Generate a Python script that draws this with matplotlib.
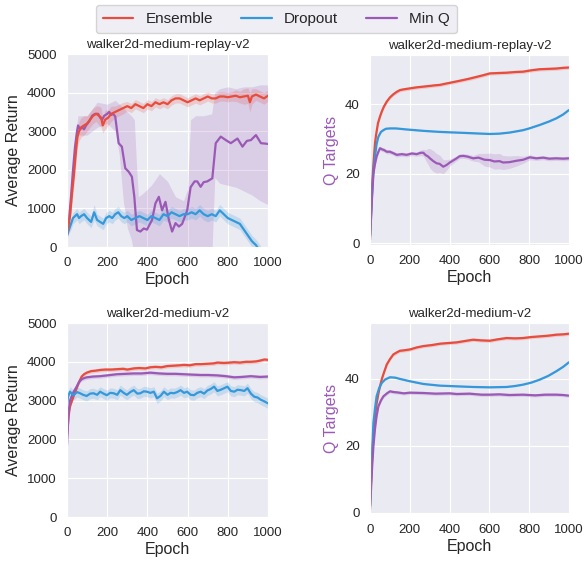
import numpy as np
import matplotlib
matplotlib.use("Agg")
import matplotlib.pyplot as plt
import seaborn as sns

sns.set_style("darkgrid")
plt.rcParams["font.family"] = ["Liberation Sans", "DejaVu Sans"]

RED, BLUE, PURPLE = "#e74c3c", "#3498db", "#9b59b6"
LABELS = ["Ensemble", "Dropout", "Min Q"]
TITLES = ["walker2d-medium-replay-v2", "walker2d-medium-v2"]

# ---------------- walker2d-medium-replay-v2 : average return ----------------
rep_ens_ep = [0, 15, 25, 35, 45, 52, 60, 70, 85, 100, 115, 130, 145, 160, 170, 178, 190, 205, 220,
              240, 260, 280, 300, 320, 340, 360, 380, 400, 420, 440, 460, 480, 500, 520, 540, 560,
              580, 600, 620, 640, 660, 680, 700, 720, 740, 760, 780, 800, 820, 840, 860, 880, 900,
              910, 920, 940, 960, 980, 1000]
rep_ens_ret = [350, 800, 1400, 1900, 2500, 2850, 3000, 3100, 3150, 3200, 3300, 3400, 3450, 3400,
               3350, 3150, 3300, 3350, 3450, 3500, 3550, 3600, 3650, 3600, 3700, 3650, 3600, 3700,
               3650, 3750, 3700, 3750, 3700, 3800, 3850, 3850, 3800, 3750, 3800, 3850, 3800, 3850,
               3900, 3850, 3850, 3900, 3900, 3880, 3900, 3920, 3880, 3900, 3920, 3750, 3900, 3950,
               3900, 3850, 3920]
rep_ens_sd = [60, 150, 250, 300, 300, 250, 250, 250, 250, 200, 200, 200, 200, 250, 250, 200, 250,
              200, 200, 150, 150, 150, 120, 120, 120, 120, 120, 120, 120, 120, 120, 120, 120, 120,
              120, 120, 120, 120, 120, 120, 120, 120, 120, 120, 120, 120, 120, 120, 120, 150, 150,
              200, 200, 250, 200, 150, 150, 150, 150]

rep_do_ep = [0, 10, 20, 30, 40, 50, 60, 70, 85, 100, 110, 120, 135, 150, 165, 180, 195, 210, 225,
             240, 255, 270, 285, 300, 320, 340, 360, 380, 400, 420, 440, 460, 480, 500, 520, 540,
             560, 580, 600, 620, 640, 660, 680, 700, 720, 740, 760, 780, 800, 820, 840, 860, 880,
             900, 920, 940, 960, 980, 1000]
rep_do_ret = [300, 450, 600, 750, 800, 850, 750, 800, 850, 750, 700, 650, 900, 700, 650, 600, 750,
              800, 750, 850, 900, 800, 750, 800, 700, 750, 800, 750, 700, 800, 750, 700, 850, 800,
              900, 850, 800, 850, 850, 900, 850, 950, 850, 800, 850, 800, 950, 850, 750, 700, 650,
              600, 450, 300, 150, 50, -100, -250, -400]
rep_do_sd = [50, 100, 150, 150, 150, 150, 150, 150, 150, 150, 150, 150, 200, 150, 150, 150, 150,
             150, 150, 150, 150, 150, 150, 150, 150, 150, 150, 150, 150, 150, 150, 150, 150, 150,
             150, 150, 150, 150, 150, 150, 150, 150, 150, 150, 150, 150, 150, 150, 150, 150, 150,
             150, 150, 150, 150, 150, 150, 150, 150]

rep_mq_ep = [0, 10, 20, 30, 40, 50, 55, 65, 75, 85, 95, 110, 125, 140, 155, 165, 175, 185, 200,
             210, 220, 230, 240, 257, 273, 290, 307, 323, 335, 348, 365, 382, 398, 423, 440, 457,
             473, 490, 507, 523, 540, 557, 573, 598, 615, 635, 648, 665, 680, 698, 723, 740, 765,
             790, 815, 848, 873, 895, 915, 940, 965, 985, 1000]
rep_mq_ret = [300, 700, 1300, 2000, 2600, 3000, 3150, 3050, 3100, 3050, 3150, 3250, 3400, 3450,
              3450, 3350, 3300, 3400, 3450, 3500, 3420, 3450, 3380, 2690, 2600, 2040, 1950, 1820,
              1300, 440, 400, 480, 450, 700, 1130, 1300, 950, 1170, 700, 400, 620, 530, 600, 950,
              1550, 1700, 1700, 1560, 1680, 1700, 1780, 2690, 2860, 2770, 2690, 2810, 2600, 2750,
              2770, 2900, 2690, 2680, 2670]
rep_mq_band_ep = [0, 20, 40, 55, 100, 150, 200, 240, 260, 280, 300, 320, 335, 345, 355, 380, 420,
                  460, 500, 540, 580, 600, 615, 640, 680, 720, 735, 760, 800, 840, 880, 920, 960,
                  1000]
rep_mq_lo = [150, 900, 2200, 2900, 2900, 3100, 3200, 3000, 2400, 1200, 500, 200, -200, -300, -300,
             -300, -300, -300, -300, -300, -300, -300, -300, -300, -300, -300, 1800, 1650, 1600,
             1550, 1450, 1350, 1200, 1100]
rep_mq_hi = [450, 1700, 2900, 3400, 3400, 3750, 3700, 3800, 3700, 3600, 3500, 3400, 3300, 2200,
             1300, 1400, 1600, 1900, 1700, 1300, 1200, 1500, 3300, 3400, 3400, 3450, 4000, 4100,
             4150, 4100, 4150, 4150, 4200, 4200]

# ---------------- walker2d-medium-v2 : average return ----------------
med_ens_ep = [0, 8, 15, 25, 35, 48, 60, 73, 85, 98, 120, 140, 165, 190, 220, 248, 280, 300, 332,
              360, 390, 415, 440, 470, 498, 530, 560, 582, 610, 640, 665, 700, 730, 748, 780, 810,
              832, 860, 890, 915, 940, 960, 982, 1000]
med_ens_ret = [2100, 2600, 2850, 3000, 3150, 3320, 3480, 3620, 3680, 3720, 3760, 3770, 3790, 3800,
               3800, 3810, 3820, 3800, 3830, 3840, 3830, 3860, 3870, 3860, 3890, 3900, 3910, 3920,
               3910, 3940, 3940, 3950, 3960, 3980, 3970, 3980, 3990, 3980, 4000, 4000, 4010, 4030,
               4060, 4050]
med_mq_ep = [0, 8, 15, 30, 48, 60, 73, 85, 98, 130, 165, 200, 248, 290, 332, 370, 415, 460, 498,
             540, 582, 620, 665, 700, 748, 790, 832, 870, 915, 960, 1000]
med_mq_ret = [1850, 2700, 3000, 3200, 3360, 3480, 3550, 3580, 3600, 3620, 3630, 3650, 3680, 3690,
              3700, 3700, 3720, 3700, 3690, 3690, 3680, 3670, 3660, 3660, 3650, 3630, 3600, 3610,
              3630, 3610, 3620]
med_do_ep = [0, 5, 15, 32, 50, 65, 80, 98, 115, 132, 150, 165, 182, 198, 215, 232, 250, 265, 282,
             298, 315, 332, 350, 365, 382, 398, 415, 432, 448, 465, 482, 500, 515, 532, 548, 565,
             582, 598, 615, 632, 648, 665, 682, 698, 715, 732, 748, 765, 782, 798, 815, 832, 848,
             865, 882, 898, 915, 932, 948, 965, 982, 1000]
med_do_ret = [2900, 3100, 3230, 3140, 3220, 3190, 3150, 3120, 3180, 3190, 3150, 3230, 3180, 3140,
              3200, 3190, 3150, 3270, 3200, 3150, 3220, 3270, 3180, 3190, 3240, 3230, 3200, 3230,
              3060, 3120, 3230, 3150, 3200, 3190, 3220, 3270, 3200, 3230, 3150, 3140, 3200, 3230,
              3180, 3260, 3300, 3360, 3250, 3280, 3320, 3360, 3250, 3230, 3280, 3270, 3250, 3320,
              3180, 3100, 3080, 3020, 2980, 2930]
med_ens_sd, med_mq_sd, med_do_sd = 50, 50, 130

# ---------------- walker2d-medium-replay-v2 : Q targets ----------------
qrep_ens_ep = [0, 5, 10, 15, 20, 25, 30, 40, 50, 60, 70, 84, 100, 117, 134, 150, 167, 200, 235,
               268, 300, 330, 351, 375, 401, 435, 468, 500, 535, 570, 602, 640, 686, 730, 769, 810,
               853, 895, 936, 970, 1000]
qrep_ens_q = [2, 9, 16, 21, 25, 28.7, 31, 34.5, 36.4, 38, 39.3, 40.7, 41.9, 42.8, 43.5, 44, 44.2,
              44.5, 44.8, 45, 45.2, 45.4, 45.5, 45.8, 46.1, 46.5, 46.9, 47.3, 47.8, 48.3, 48.8, 48.9,
              49, 49.2, 49.3, 49.7, 50, 50.1, 50.2, 50.4, 50.5]
qrep_do_ep = [0, 5, 10, 15, 20, 25, 33, 42, 55, 67, 80, 100, 130, 184, 268, 350, 435, 520, 602,
              650, 700, 740, 769, 800, 853, 900, 936, 970, 1000]
qrep_do_q = [2, 8, 14, 19, 22.5, 24.9, 28.5, 30.6, 32, 32.5, 32.9, 33.0, 33.0, 32.7, 32.3, 32.0,
             31.8, 31.6, 31.4, 31.5, 31.8, 32.2, 32.5, 33.0, 34.0, 35.0, 35.9, 37.0, 38.3]
qrep_mq_ep = [0, 5, 10, 17, 25, 33, 42, 50, 60, 70, 84, 100, 120, 134, 160, 184, 210, 234, 255,
              268, 280, 290, 301, 318, 334, 350, 368, 385, 401, 418, 435, 450, 468, 490, 518, 545,
              575, 602, 625, 650, 669, 700, 736, 770, 803, 835, 870, 900, 936, 970, 1000]
qrep_mq_q = [1, 7, 13, 20, 22.8, 24.9, 26.3, 27.3, 27, 26.8, 26.3, 26.3, 25.8, 25.4, 25.6, 25.4,
             25.8, 25.6, 26.0, 26.0, 25.3, 25.0, 24.4, 23.6, 23.0, 22.8, 22.0, 22.5, 23.2, 23.8,
             24.4, 25.0, 25.1, 24.9, 24.4, 24.6, 24.0, 23.9, 23.5, 23.6, 23.2, 23.3, 23.7, 24.0,
             24.7, 24.4, 24.6, 24.3, 24.4, 24.3, 24.4]
qrep_mq_sd = [0.3, 0.6, 0.6, 0.6, 0.6, 0.6, 0.6, 0.6, 0.6, 0.6, 0.6, 0.6, 0.6, 0.6, 0.6, 0.6, 0.6,
              0.6, 0.8, 1.0, 1.5, 2.2, 2.8, 3.0, 2.8, 2.5, 2.0, 1.5, 1.0, 0.8, 0.7, 0.7, 0.7, 0.7,
              0.8, 1.2, 1.8, 2.0, 2.2, 2.2, 2.0, 1.8, 1.5, 1.0, 0.7, 0.6, 0.6, 0.6, 0.6, 0.6, 0.6]

# ---------------- walker2d-medium-v2 : Q targets ----------------
qmed_ens_ep = [0, 5, 10, 15, 20, 25, 33, 42, 50, 60, 70, 84, 100, 117, 134, 150, 167, 201, 235,
               268, 310, 351, 390, 435, 475, 518, 560, 602, 640, 686, 730, 769, 810, 853, 895, 936,
               970, 1000]
qmed_ens_q = [2, 9, 16, 21, 25, 28.8, 32.5, 35.5, 37.7, 40, 41.8, 44.2, 45.8, 47.2, 47.8, 48.3,
              48.4, 48.7, 49.3, 49.7, 50.0, 50.4, 50.6, 50.8, 51.2, 51.6, 51.4, 51.3, 51.7, 52.1,
              52.0, 52.1, 52.4, 52.6, 52.8, 53.1, 53.2, 53.4]
qmed_do_ep = [0, 5, 10, 17, 25, 33, 45, 59, 75, 100, 125, 151, 201, 268, 351, 435, 518, 602, 686,
              730, 769, 810, 853, 895, 936, 970, 1000]
qmed_do_q = [2, 10, 17, 26.8, 31, 34.7, 37, 38.7, 39.7, 40.4, 40.3, 39.9, 39.2, 38.4, 37.9, 37.7,
             37.5, 37.4, 37.5, 37.8, 38.2, 38.8, 39.7, 40.8, 42.2, 43.5, 44.9]
qmed_mq_ep = [0, 5, 10, 17, 25, 33, 42, 55, 67, 85, 100, 117, 134, 170, 200, 268, 330, 400, 435,
              500, 560, 602, 650, 700, 769, 830, 880, 936, 970, 1000]
qmed_mq_q = [1, 7, 13, 19.8, 25, 28.8, 31.7, 33.5, 34.7, 35.6, 36.2, 36.0, 35.9, 35.6, 35.8, 35.7,
             35.5, 35.6, 35.4, 35.5, 35.2, 35.2, 35.3, 35.1, 35.2, 35.0, 35.2, 35.2, 35.1, 34.9]
q_ens_sd, q_do_sd, q_mq_sd = 0.5, 0.2, 0.5

ret_ticks = [0, 1000, 2000, 3000, 4000, 5000]
q_ticks = [0, 20, 40]
epoch_ticks = [0, 200, 400, 600, 800, 1000]


def curve(ax, ep, mean, color, spread=None, lo=None, hi=None, band_ep=None, label=None):
    ep = np.asarray(ep, float)
    mean = np.asarray(mean, float)
    if lo is None:
        s = np.asarray(spread, float)
        lo, hi = mean - s, mean + s
    bx = ep if band_ep is None else np.asarray(band_ep, float)
    ax.fill_between(bx, lo, hi, color=color, alpha=0.2, lw=0)
    ax.plot(ep, mean, color=color, lw=1.6, label=label)


def style(ax, title, ylabel, yticks, ylim, ycolor=".15"):
    ax.set_xlim(0, 1000)
    ax.set_ylim(*ylim)
    ax.set_xticks(epoch_ticks)
    ax.set_yticks(yticks)
    ax.tick_params(labelsize=9.5, length=0, pad=7.5, colors=".15")
    ax.set_title(title, fontsize=9.5, pad=4, color=".15")
    ax.set_xlabel("Epoch", fontsize=11.5, color=".15", labelpad=2)
    ax.set_ylabel(ylabel, fontsize=11.5, color=ycolor, labelpad=4)


fig = plt.figure(figsize=(5.84, 5.61), dpi=100)
ax_rr = fig.add_axes([0.1147, 0.5597, 0.3442, 0.3440])
ax_rq = fig.add_axes([0.6336, 0.5633, 0.3408, 0.3387])
ax_mr = fig.add_axes([0.1147, 0.0784, 0.3442, 0.3458])
ax_mq = fig.add_axes([0.6336, 0.0838, 0.3408, 0.3405])

# medium-replay returns
curve(ax_rr, rep_mq_ep, rep_mq_ret, PURPLE, lo=rep_mq_lo, hi=rep_mq_hi, band_ep=rep_mq_band_ep)
curve(ax_rr, rep_do_ep, rep_do_ret, BLUE, spread=rep_do_sd)
curve(ax_rr, rep_ens_ep, rep_ens_ret, RED, spread=rep_ens_sd)
style(ax_rr, TITLES[0], "Average Return", ret_ticks, (0, 5000))

# medium-replay Q targets
curve(ax_rq, qrep_ens_ep, qrep_ens_q, RED, spread=q_ens_sd)
curve(ax_rq, qrep_do_ep, qrep_do_q, BLUE, spread=q_do_sd)
curve(ax_rq, qrep_mq_ep, qrep_mq_q, PURPLE, spread=qrep_mq_sd)
style(ax_rq, TITLES[0], "Q Targets", q_ticks, (-0.5, 54.1), ycolor=PURPLE)

# medium returns
curve(ax_mr, med_ens_ep, med_ens_ret, RED, spread=med_ens_sd)
curve(ax_mr, med_mq_ep, med_mq_ret, PURPLE, spread=med_mq_sd)
curve(ax_mr, med_do_ep, med_do_ret, BLUE, spread=med_do_sd)
style(ax_mr, TITLES[1], "Average Return", ret_ticks, (0, 5000))

# medium Q targets
curve(ax_mq, qmed_ens_ep, qmed_ens_q, RED, spread=q_ens_sd, label=LABELS[0])
curve(ax_mq, qmed_do_ep, qmed_do_q, BLUE, spread=q_do_sd, label=LABELS[1])
curve(ax_mq, qmed_mq_ep, qmed_mq_q, PURPLE, spread=q_mq_sd, label=LABELS[2])
style(ax_mq, TITLES[1], "Q Targets", q_ticks, (-0.4, 56.6), ycolor=PURPLE)

handles, labels = ax_mq.get_legend_handles_labels()
fig.legend(handles, labels, loc="upper center", bbox_to_anchor=(0.473, 0.991), ncol=3,
           fontsize=11, frameon=True, facecolor="#EAEAF2", edgecolor="0.8",
           handlelength=2.0, columnspacing=1.85, borderpad=0.45, borderaxespad=0)

fig.savefig("out.png", dpi=100)
